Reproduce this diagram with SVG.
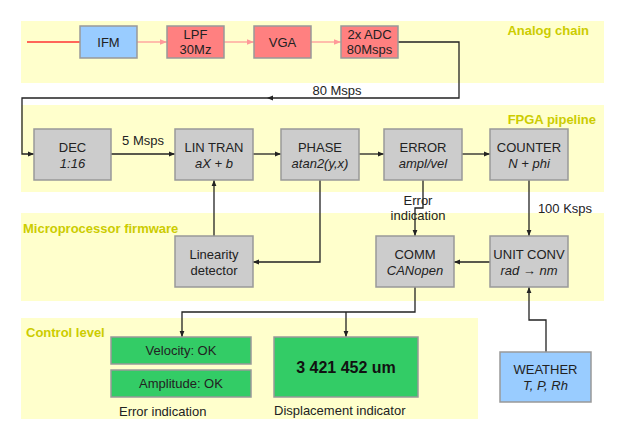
<svg xmlns="http://www.w3.org/2000/svg" width="623" height="440" viewBox="0 0 623 440">
<defs>
<style>
text{font-family:"Liberation Sans",Arial,sans-serif;font-size:13px;fill:#222;text-anchor:middle}
.band{fill:#ffffcc}
.bl{font-weight:bold;fill:#cccc00;font-size:13px}
.box{stroke:#999;stroke-width:1.5}
.gray{fill:#cccccc}
.blue{fill:#99ccff}
.red{fill:#ff8080}
.green{fill:#33cc66}
.it{font-style:italic}
.ln{fill:none;stroke:#222;stroke-width:1.3}
.pk{fill:none;stroke:#ff9999;stroke-width:1.3}
</style>
<marker id="ah" viewBox="0 0 10 10" refX="10" refY="5" markerWidth="6" markerHeight="6" orient="auto" markerUnits="userSpaceOnUse"><path d="M0,1L10,5L0,9z" fill="#222"/></marker>
<marker id="ap" viewBox="0 0 10 10" refX="10" refY="5" markerWidth="7" markerHeight="7" orient="auto" markerUnits="userSpaceOnUse"><path d="M0,1L10,5L0,9z" fill="#ff9999"/></marker>
</defs>
<g id="bands">
<rect class="band" x="21" y="21" width="583" height="62"/>
<rect class="band" x="21" y="105" width="583" height="87"/>
<rect class="band" x="21" y="213" width="583" height="88"/>
<rect class="band" x="21" y="318" width="457" height="101"/>
<text class="bl" x="589" y="35" style="text-anchor:end">Analog chain</text>
<text class="bl" x="596" y="124" style="text-anchor:end">FPGA pipeline</text>
<text class="bl" x="23" y="233" style="text-anchor:start">Microprocessor firmware</text>
<text class="bl" x="26" y="337" style="text-anchor:start">Control level</text>
</g>
<g id="connectors">
<line x1="27" y1="42" x2="80" y2="42" stroke="#ff3333" stroke-width="1.3"/>
<line class="pk" x1="137" y1="42" x2="167" y2="42" marker-end="url(#ap)"/>
<line class="pk" x1="224" y1="42" x2="254" y2="42" marker-end="url(#ap)"/>
<line class="pk" x1="311" y1="42" x2="341" y2="42" marker-end="url(#ap)"/>
<polyline class="ln" points="398,42 459,42 459,98 267,98" marker-end="url(#ah)"/>
<polyline class="ln" points="267,98 22,98 22,154 34,154" marker-end="url(#ah)"/>
<text x="337" y="95">80 Msps</text>
<line class="ln" x1="111" y1="154" x2="175" y2="154" marker-end="url(#ah)"/>
<text x="143" y="145">5 Msps</text>
<line class="ln" x1="253" y1="154" x2="281" y2="154" marker-end="url(#ah)"/>
<line class="ln" x1="359" y1="154" x2="384" y2="154" marker-end="url(#ah)"/>
<line class="ln" x1="462" y1="154" x2="490" y2="154" marker-end="url(#ah)"/>
<polyline class="ln" points="423,180 423,208 415,208 415,236" marker-end="url(#ah)"/>
<text x="418" y="205">Error</text>
<text x="418" y="220">indication</text>
<line class="ln" x1="529" y1="180" x2="529" y2="236" marker-end="url(#ah)"/>
<text x="565" y="213">100 Ksps</text>
<polyline class="ln" points="320,180 320,262 253,262" marker-end="url(#ah)"/>
<line class="ln" x1="214" y1="236" x2="214" y2="180" marker-end="url(#ah)"/>
<line class="ln" x1="490" y1="262" x2="454" y2="262" marker-end="url(#ah)"/>
<polyline class="ln" points="415,287 415,312 182,312 182,337" marker-end="url(#ah)"/>
<polyline class="ln" points="346,312 346,337" marker-end="url(#ah)"/>
<polyline class="ln" points="546,352 546,320 529,320 529,287" marker-end="url(#ah)"/>
</g>
<g id="ifm"><rect class="box blue" x="80" y="26" width="57" height="32"/><text x="108.5" y="47">IFM</text></g>
<g id="lpf"><rect class="box red" x="167" y="26" width="57" height="32"/><text x="195.5" y="39">LPF</text><text x="195.5" y="54">30Mz</text></g>
<g id="vga"><rect class="box red" x="254" y="26" width="57" height="32"/><text x="282.5" y="47">VGA</text></g>
<g id="adc"><rect class="box red" x="341" y="26" width="57" height="32"/><text x="369.5" y="39">2x ADC</text><text x="369.5" y="54">80Msps</text></g>
<g id="dec"><rect class="box gray" x="34" y="129" width="77" height="51"/><text x="72.5" y="152">DEC</text><text class="it" x="72.5" y="168">1:16</text></g>
<g id="lintran"><rect class="box gray" x="175" y="129" width="78" height="51"/><text x="214" y="152">LIN TRAN</text><text class="it" x="214" y="168">aX + b</text></g>
<g id="phase"><rect class="box gray" x="281" y="129" width="78" height="51"/><text x="320" y="152">PHASE</text><text class="it" x="320" y="168">atan2(y,x)</text></g>
<g id="error"><rect class="box gray" x="384" y="129" width="78" height="51"/><text x="423" y="152">ERROR</text><text class="it" x="423" y="168">ampl/vel</text></g>
<g id="counter"><rect class="box gray" x="490" y="129" width="78" height="51"/><text x="529" y="152">COUNTER</text><text class="it" x="529" y="168">N + phi</text></g>
<g id="linearity"><rect class="box gray" x="175" y="236" width="78" height="51"/><text x="214" y="259">Linearity</text><text x="214" y="275">detector</text></g>
<g id="comm"><rect class="box gray" x="376" y="236" width="78" height="51"/><text x="415" y="259">COMM</text><text class="it" x="415" y="275">CANopen</text></g>
<g id="unitconv"><rect class="box gray" x="490" y="236" width="78" height="51"/><text x="529" y="259">UNIT CONV</text><text class="it" x="529" y="275">rad → nm</text></g>
<g id="velocity"><rect class="box green" x="111" y="337" width="140" height="27"/><text x="181" y="355">Velocity: OK</text></g>
<g id="amplitude"><rect class="box green" x="111" y="370" width="140" height="27"/><text x="181" y="388">Amplitude: OK</text></g>
<g id="displacement"><rect class="box green" x="274" y="337" width="144" height="60"/><text x="346" y="373" style="font-weight:bold;font-size:16px;fill:#111">3 421 452 um</text></g>
<g id="weather"><rect class="box blue" x="500" y="352" width="91" height="50"/><text x="545.5" y="374">WEATHER</text><text class="it" x="545.5" y="390">T, P, Rh</text></g>
<g id="labels"><text x="119" y="416" style="text-anchor:start">Error indication</text><text x="274" y="415" style="text-anchor:start">Displacement indicator</text></g>
</svg>
